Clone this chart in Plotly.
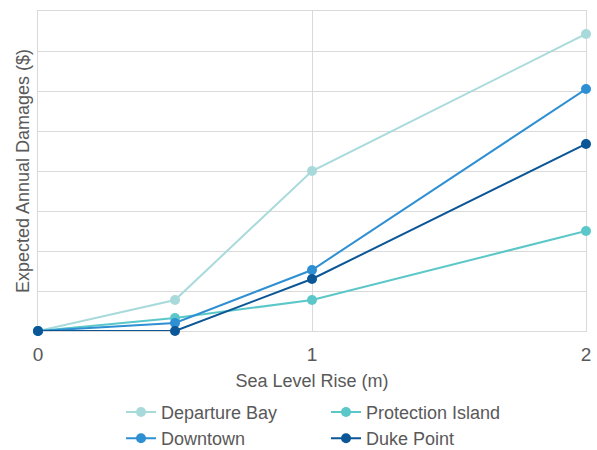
import plotly.graph_objects as go

sea_level_rise = [0, 0.5, 1, 2]
departure_bay = [0, 0.775, 4.0, 7.425]
protection_island = [0, 0.325, 0.775, 2.5]
downtown = [0, 0.2, 1.525, 6.05]
duke_point = [0, 0, 1.3, 4.675]

series = [
    ("Departure Bay", departure_bay, "#A8DADC"),
    ("Protection Island", protection_island, "#5BC7C9"),
    ("Downtown", downtown, "#2E8FD2"),
    ("Duke Point", duke_point, "#0B5696"),
]

fig = go.Figure()
for name, vals, color in series:
    fig.add_trace(go.Scatter(
        x=sea_level_rise, y=vals, name=name, mode="lines+markers",
        line=dict(color=color, width=2),
        marker=dict(color=color, size=10),
        cliponaxis=False,
    ))

font_family = "Liberation Sans Narrow, Arial Narrow, Liberation Sans, sans-serif"
fig.update_layout(
    width=597, height=450,
    margin=dict(l=38, r=11, t=11, b=119, autoexpand=False),
    paper_bgcolor="white", plot_bgcolor="white",
    font=dict(family=font_family, size=18, color="#595959"),
    xaxis=dict(
        range=[0, 2], tickvals=[0, 1, 2], ticktext=["0", "1", "2"],
        tickfont=dict(size=19), layer="below traces",
        showgrid=True, gridcolor="#D9D9D9", gridwidth=1,
        showline=True, linecolor="#D9D9D9", linewidth=1, mirror=True,
        zeroline=False, ticks="outside", ticklen=6, tickcolor="rgba(0,0,0,0)",
        title=dict(text="Sea Level Rise (m)", standoff=10, font=dict(size=18)),
    ),
    yaxis=dict(
        range=[0, 8], dtick=1, showticklabels=False, layer="below traces",
        showgrid=True, gridcolor="#D9D9D9", gridwidth=1,
        showline=True, linecolor="#D9D9D9", linewidth=1, mirror=True,
        zeroline=False, ticks="",
        title=dict(text="Expected Annual Damages ($)", standoff=2, font=dict(size=18)),
    ),
    legend=dict(
        orientation="h", x=0.1515, xanchor="left", y=-0.196, yanchor="top",
        entrywidth=160, entrywidthmode="pixels",
        font=dict(size=18, color="#595959"),
        itemwidth=30, tracegroupgap=0,
    ),
    showlegend=True,
)

fig.write_html(
    "out.html",
    config={"displayModeBar": False},
    post_script="document.body.style.margin='0';document.body.style.overflow='hidden';",
)
